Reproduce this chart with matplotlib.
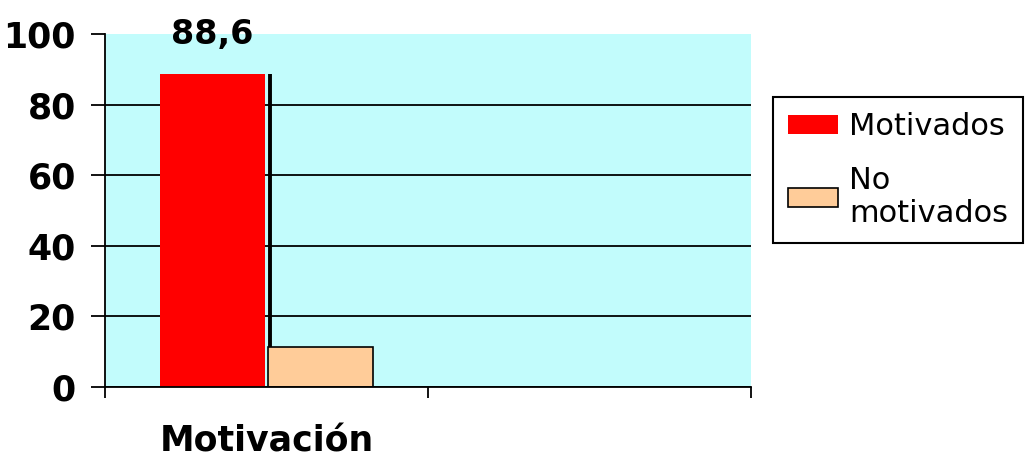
import numpy as np
import matplotlib.pyplot as plt

# Data
categories = ['Motivación']
series_names = ['Motivados', 'No\nmotivados']
motivados = [88.6]
no_motivados = [11.4]
value_labels = ['88,6']
y_ticks = [0, 20, 40, 60, 80, 100]

fig = plt.figure(figsize=(10.33, 4.59), dpi=100)
ax = fig.add_axes([0.1016, 0.1569, 0.6254, 0.769])
ax.set_facecolor('#C2FCFC')

x = np.arange(len(categories)) + 0.5
w = 0.325
b1 = ax.bar(x - w / 2 - 0.005, motivados, w, color='#FF0000', label=series_names[0], zorder=3)
b2 = ax.bar(x + w / 2 + 0.005, no_motivados, w, color='#FFCC99', edgecolor='black',
            linewidth=1.2, label=series_names[1], zorder=3)
# dark edge between the two bars
ax.vlines(x + 0.01, no_motivados, motivados, color='black', linewidth=2.8, zorder=4)

ax.bar_label(b1, labels=value_labels, padding=17, fontsize=24, fontweight='bold')

ax.set_xlim(0, 2)
ax.set_ylim(0, 100)
ax.set_yticks(y_ticks)
ax.set_xticks(x)
ax.set_xticklabels(categories, fontsize=25, fontweight='bold')
ax.set_xticks([0, 1, 2], minor=True)
ax.tick_params(axis='x', which='major', length=0, pad=27)
ax.tick_params(axis='x', which='minor', length=8, width=1.3, direction='out')
ax.tick_params(axis='y', length=10, width=1.3, pad=11, labelsize=25)
for lab in ax.get_yticklabels():
    lab.set_fontweight('bold')

ax.yaxis.grid(True, color='black', linewidth=1.3)
ax.set_axisbelow(True)
ax.get_ygridlines()[-1].set_visible(False)

for s in ['top', 'right']:
    ax.spines[s].set_visible(False)
for s in ['left', 'bottom']:
    ax.spines[s].set_linewidth(1.3)
    ax.spines[s].set_zorder(5)

leg = fig.legend(loc='upper left', bbox_to_anchor=(0.748, 0.789), borderaxespad=0,
                 fontsize=22, frameon=True, fancybox=False, framealpha=1, edgecolor='black',
                 handlelength=1.65, handleheight=0.55, handletextpad=0.35,
                 labelspacing=0.8, borderpad=0.5)
leg.get_frame().set_linewidth(1.5)

fig.savefig('out.png', dpi=100)
